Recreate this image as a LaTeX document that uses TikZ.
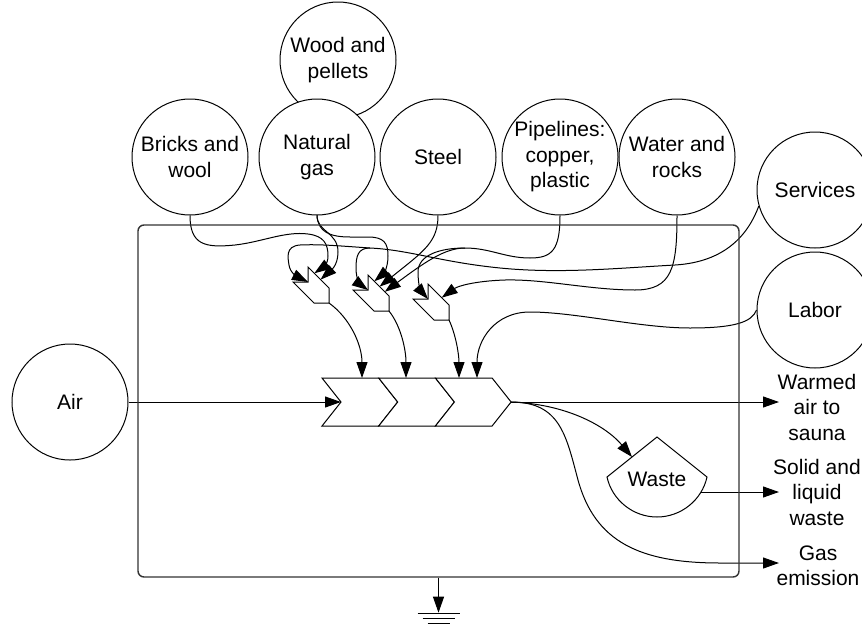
\documentclass[tikz,border=0pt]{standalone}
\usepackage{fontspec}
\setmainfont{Liberation Sans}
\usetikzlibrary{arrows.meta, backgrounds}

\begin{document}
\begin{tikzpicture}[x=1pt, y=-1pt, line width=1pt,
    font=\fontsize{21}{25.5}\selectfont,
    >={Triangle[length=16pt,width=11pt]},
    source/.style={draw, circle, fill=white, minimum size=116pt, inner sep=0pt, align=center},
    flow/.style={->, line width=1pt},
    outlabel/.style={align=center, inner sep=0pt}]

    \useasboundingbox (0,0) rectangle (862,624);

    % System boundary
    \node[draw=black!80, line width=1.4pt, rounded corners=6pt,
          minimum width=601pt, minimum height=352pt] (sys) at (438.5,401) {};

    % Sources
    \node[source] (wood) at (338,60) {Wood and\\pellets};
    \node[source] (bricks) at (190,157) {Bricks and\\wool};
    \node[source] (gas) at (317,157) {Natural\\gas};
    \node[source] (steel) at (438,157) {Steel};
    \node[source] (pipes) at (560,157) {Pipelines:\\copper,\\plastic};
    \node[source] (water) at (677,157) {Water and\\rocks};
    \node[source] (services) at (815,190) {Services};
    \node[source] (labor) at (815,310) {Labor};
    \node[source] (air) at (70,402) {Air};

    % Small interaction chevrons (n = notch, s = side inputs, e = output)
    \coordinate (n1) at (308,282);
    \coordinate (n2) at (368,290);
    \coordinate (n3) at (428,299);
    \foreach \n in {n1,n2,n3}
      \draw[fill=white] (\n) -- ++(-15,0) -- ++(21,21) -- ++(15,0) -- ++(0,-15) -- ++(-21,-21) -- cycle;
    \coordinate (s11) at (314.3,273.3);
    \coordinate (s12) at (320.6,279.6);
    \coordinate (s21) at (374.3,281.3);
    \coordinate (s22) at (379.6,286.6);
    \coordinate (s23) at (384.8,291.8);
    \coordinate (s31) at (441.7,297.7);
    \coordinate (e1) at (329,303);
    \coordinate (e2) at (389,311);
    \coordinate (e3) at (449,320);

    % Main value chain
    \foreach \i in {0,1,2}
      \draw[fill=white] ({322+56.7*\i},378) -- ++(56.7,0) -- ++(19,24) -- ++(-19,24) -- ++(-56.7,0) -- ++(19,-24) -- cycle;
    \coordinate (in) at (341,402);
    \coordinate (outp) at (511,402);
    \coordinate (t1) at (362,378);
    \coordinate (t2) at (406,378);
    \coordinate (t3) at (459,378);
    \coordinate (t4) at (477,378);

    % Waste
    \draw (607,477) -- (657,437) -- (707,477) .. controls (702,500) and (681,517) .. (657,517)
          .. controls (633,517) and (612,500) .. (607,477) -- cycle;
    \node (waste) at (657,479) {Waste};
    \coordinate (wi) at (632,457);
    \coordinate (wo) at (701,492);

    % Outputs
    \node[outlabel] (warm) at (817,407) {Warmed\\air to\\sauna};
    \node[outlabel] (solid) at (817,492) {Solid and\\liquid\\waste};
    \node[outlabel] (emis) at (818,566) {Gas\\emission};
    \coordinate (o1) at (779,402);
    \coordinate (o2) at (779,492);
    \coordinate (o3) at (779,563);

    \begin{scope}[on background layer, line width=1pt]
      % Sources into the small chevrons
      \draw[flow] (bricks.south) .. controls (190,245) and (205,248) .. (235,245)
            .. controls (262,242) and (285,231) .. (308,234)
            .. controls (324,236) and (328,244) .. (328,256)
            .. controls (328,265) and (322,268) .. (s11);
      \draw[flow] (wood.south) -- (gas.south) .. controls (317,232) and (338,232) .. (338,252)
            .. controls (338,266) and (330,271) .. (s12);
      \draw[flow] (gas.south) .. controls (318,232) and (330,237) .. (350,237) -- (368,237)
            .. controls (384,237) and (388,243) .. (388,256)
            .. controls (388,268) and (383,274) .. (s21);
      \draw[flow] (steel.south) .. controls (438,242) and (424,251) .. (s22);
      \draw[flow] (pipes.south) .. controls (560,250) and (552,258) .. (530,258)
            .. controls (505,258) and (490,248) .. (465,248) coordinate (pfork)
            .. controls (445,248) and (425,262) .. (s23);
      \draw[flow] (pfork) .. controls (440,248) and (418,255) .. (418,272)
            .. controls (418,284) and (421,291) .. (n3);
      \draw[flow] (water.south) .. controls (677,268) and (672,290) .. (635,290)
            .. controls (590,290) and (545,279) .. (505,280)
            .. controls (475,281) and (458,286) .. (s31);
      \draw[flow] (services.196) .. controls (748,235) and (725,262) .. (675,265)
            .. controls (620,268) and (560,274) .. (500,268)
            .. controls (440,262) and (410,250) .. (370,248) coordinate (sfork)
            .. controls (340,246) and (320,244) .. (300,245)
            .. controls (285,246) and (288,258) .. (289,265)
            .. controls (290,273) and (298,277) .. (n1);
      \draw[flow] (sfork) .. controls (358,248) and (356,256) .. (356,268)
            .. controls (356,280) and (361,285) .. (n2);
      \draw[flow] (labor.west) .. controls (752,322) and (735,328) .. (690,328)
            .. controls (640,328) and (575,312) .. (530,312)
            .. controls (495,312) and (477,340) .. (t4);

      % Small chevrons into the value chain
      \draw[flow] (e1) .. controls (350,318) and (362,345) .. (t1);
      \draw[flow] (e2) .. controls (401,326) and (406,350) .. (t2);
      \draw[flow] (e3) .. controls (456,335) and (459,355) .. (t3);

      % Air in, products out
      \draw[flow] (air.east) -- (in);
      \draw[flow] (outp) -- (o1);
      \draw[flow] (outp) .. controls (565,404) and (605,425) .. (wi);
      \draw[flow] (outp) .. controls (560,402) and (566,435) .. (578,480)
            .. controls (595,542) and (640,563) .. (720,563) -- (o3);
      \draw[flow] (wo) -- (o2);
    \end{scope}

    % Heat sink
    \draw[flow] (sys.south) -- ++(0,35) coordinate (gnd);
    \draw (gnd) ++(-21,1) -- ++(42,0);
    \draw (gnd) ++(-16,6) -- ++(32,0);
    \draw (gnd) ++(-11,11) -- ++(22,0);
\end{tikzpicture}
\end{document}
